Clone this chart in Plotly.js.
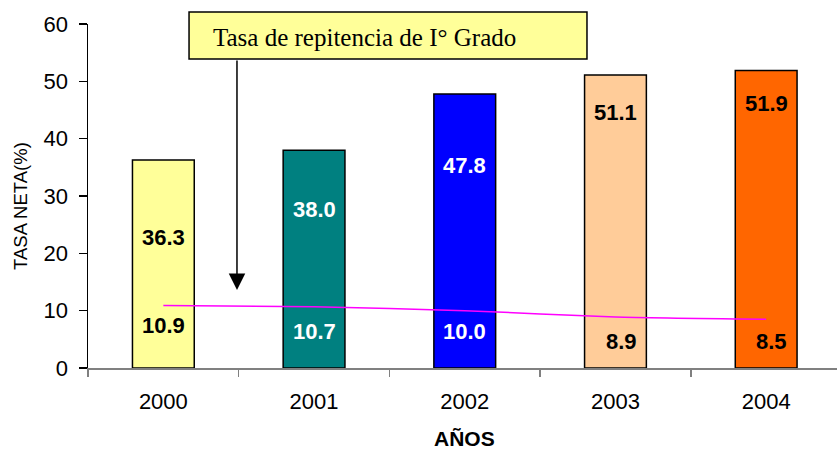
<!DOCTYPE html>
<html>
<head>
<meta charset="utf-8">
<script src="https://cdn.plot.ly/plotly-3.0.1.min.js"></script>
<style>html,body{margin:0;padding:0;background:#fff;}#chart{width:837px;height:452px;}</style>
</head>
<body>
<div id="chart"></div>
<script>
const years = ['2000', '2001', '2002', '2003', '2004'];
const tasaNeta = [36.3, 38.0, 47.8, 51.1, 51.9];
const tasaRepitencia = [10.9, 10.7, 10.0, 8.9, 8.5];
const barColors = ['#FFFF99', '#008080', '#0000FF', '#FFCC99', '#FF6600'];
const labelColors = ['#000000', '#FFFFFF', '#FFFFFF', '#000000', '#000000'];
const yTicks = [0, 10, 20, 30, 40, 50, 60];
const calloutText = 'Tasa de repitencia de I° Grado';
const xTitle = 'AÑOS';
const yTitle = 'TASA NETA(%)';

// label placement (layout only)
const barLabelY = [22.7, 27.6, 35.4, 44.5, 46.2];
const lineLabelY = [7.5, 6.3, 6.3, 4.7, 4.7];
const lineLabelShift = [0, 0, 0, 6, 5];

const traces = [
  {
    type: 'bar', x: years, y: tasaNeta, width: 0.41,
    marker: {color: barColors, line: {color: '#000', width: 1.5}},
    hoverinfo: 'skip'
  },
  {
    type: 'scatter', mode: 'lines', x: years, y: tasaRepitencia,
    line: {color: '#FF00FF', width: 1.5, shape: 'spline', smoothing: 0.6},
    hoverinfo: 'skip'
  }
];

const valueFont = (c) => ({family: 'Arial, Liberation Sans, sans-serif', size: 22, color: c});
const annotations = [];
years.forEach((yr, i) => {
  annotations.push({
    x: i, y: barLabelY[i], xref: 'x', yref: 'y', showarrow: false,
    xanchor: 'center', yanchor: 'middle',
    text: '<b>' + tasaNeta[i].toFixed(1) + '</b>', font: valueFont(labelColors[i])
  });
  annotations.push({
    x: i, y: lineLabelY[i], xref: 'x', yref: 'y', showarrow: false, xshift: lineLabelShift[i],
    xanchor: 'center', yanchor: 'middle',
    text: '<b>' + tasaRepitencia[i].toFixed(1) + '</b>', font: valueFont(labelColors[i])
  });
});
annotations.push({
  xref: 'paper', yref: 'paper', x: 0.1642, y: 0.960, xanchor: 'left', yanchor: 'middle',
  showarrow: false, text: calloutText,
  font: {family: 'Liberation Serif, Times New Roman, serif', size: 25, color: '#000'}
});
annotations.push({
  xref: 'paper', yref: 'paper', x: 0.1989, y: 0.2267, ax: 0, ay: -231,
  showarrow: true, arrowhead: 2, arrowsize: 2.2, arrowwidth: 1.5, arrowcolor: '#000',
  standoff: 0, startstandoff: 0, text: ''
});
annotations.push({
  xref: 'paper', yref: 'paper', x: 0.503, y: -0.205, showarrow: false,
  xanchor: 'center', yanchor: 'middle', borderpad: 0,
  text: '<b>' + xTitle + '</b>',
  font: {family: 'Arial, Liberation Sans, sans-serif', size: 21, color: '#000'}
});
annotations.push({
  xref: 'paper', yref: 'paper', x: -0.0895, y: 0.471, showarrow: false, textangle: -90,
  xanchor: 'center', yanchor: 'middle',
  text: yTitle,
  font: {family: 'Arial, Liberation Sans, sans-serif', size: 18.5, color: '#000'}
});

const layout = {
  width: 837, height: 452,
  margin: {l: 88, r: 0, t: 24, b: 84},
  paper_bgcolor: '#fff', plot_bgcolor: '#fff',
  showlegend: false,
  font: {family: 'Arial, Liberation Sans, sans-serif', color: '#000'},
  xaxis: {
    type: 'category', range: [-0.5, 4.47], tickson: 'boundaries',
    ticks: 'outside', ticklen: 7, tickcolor: '#808080', tickwidth: 1.5,
    showline: true, linecolor: '#808080', linewidth: 1.5,
    showgrid: false, zeroline: false,
    tickfont: {size: 22, color: '#000'}, ticklabelstandoff: 13
  },
  yaxis: {
    range: [0, 60], tickvals: yTicks, ticktext: yTicks.map(String),
    ticks: 'outside', ticklen: 8, tickcolor: '#000', tickwidth: 1.5,
    showline: true, linecolor: '#000', linewidth: 1.5,
    showgrid: false, zeroline: false,
    tickfont: {size: 22, color: '#000'}, ticklabelstandoff: 6
  },
  shapes: [{
    type: 'rect', xref: 'paper', yref: 'paper',
    x0: 0.1349, x1: 0.6662, y0: 0.8983, y1: 1.0349,
    fillcolor: '#FFFF99', line: {color: '#000', width: 1.5}, layer: 'above'
  }],
  annotations: annotations
};

Plotly.newPlot('chart', traces, layout, {staticPlot: true, displayModeBar: false});
</script>
</body>
</html>
